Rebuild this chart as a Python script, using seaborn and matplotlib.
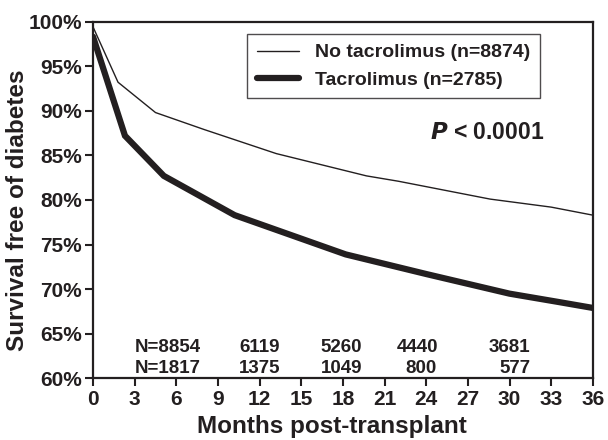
import matplotlib
matplotlib.use("Agg")
import matplotlib.pyplot as plt
import seaborn as sns
import pandas as pd
from matplotlib.ticker import FuncFormatter

# Data
months_no_tac = [0, 1.8, 4.5, 8.0, 13.2, 19.7, 22.0, 28.6, 33.0, 36]
surv_no_tac = [99.4, 93.2, 89.8, 87.9, 85.2, 82.7, 82.1, 80.1, 79.2, 78.3]
months_tac = [0, 2.3, 5.1, 10.2, 18.2, 24.0, 30.0, 33.4, 36]
surv_tac = [98.3, 87.2, 82.7, 78.3, 73.9, 71.7, 69.5, 68.6, 67.9]

label_no_tac = "No tacrolimus (n=8874)"
label_tac = "Tacrolimus (n=2785)"

risk_months_top = [5.4, 12.0, 17.9, 23.4, 30.0]
risk_top = ["N=8854", "6119", "5260", "4440", "3681"]
risk_months_bot = [5.4, 12.0, 17.9, 23.6, 30.4]
risk_bot = ["N=1817", "1375", "1049", "800", "577"]

x_ticks = list(range(0, 37, 3))
y_ticks = list(range(60, 101, 5))

sns.set_style("ticks")
plt.rcParams["font.family"] = ["Liberation Sans", "DejaVu Sans"]
plt.rcParams["font.weight"] = "bold"

df_no = pd.DataFrame({"Months": months_no_tac, "Survival": surv_no_tac})
df_tac = pd.DataFrame({"Months": months_tac, "Survival": surv_tac})

fig = plt.figure(figsize=(6.08, 4.40), dpi=100)
ax = fig.add_axes([0.153, 0.140, 0.822, 0.811])

sns.lineplot(data=df_no, x="Months", y="Survival", ax=ax, color="#231f20",
             linewidth=1.0, label=label_no_tac, estimator=None, sort=False)
sns.lineplot(data=df_tac, x="Months", y="Survival", ax=ax, color="#231f20",
             linewidth=4.5, label=label_tac, estimator=None, sort=False,
             solid_joinstyle="miter")

ax.set_xlim(0, 36)
ax.set_ylim(60, 100)
ax.set_xticks(x_ticks)
ax.set_yticks(y_ticks)
ax.yaxis.set_major_formatter(FuncFormatter(lambda v, p: f"{int(v)}%"))
ax.tick_params(axis="both", which="major", labelsize=15, length=6, width=1.5,
               color="#231f20", labelcolor="#231f20", pad=2)
for lab in ax.get_xticklabels() + ax.get_yticklabels():
    lab.set_fontweight("bold")

for s in ax.spines.values():
    s.set_visible(True)
    s.set_linewidth(1.6)
    s.set_color("#231f20")

ax.set_xlabel("Months post-transplant", fontsize=17.5, fontweight="bold",
              color="#231f20")
ax.set_ylabel("Survival free of diabetes", fontsize=17.5, fontweight="bold",
              color="#231f20")
ax.xaxis.set_label_coords(0.478, -0.103)
ax.yaxis.set_label_coords(-0.128, 0.47)

leg = ax.legend(loc="upper right", bbox_to_anchor=(0.894, 0.965),
                fontsize=14, frameon=True, fancybox=False, handlelength=2.2,
                borderpad=0.5, labelspacing=0.5, handletextpad=0.8,
                borderaxespad=0)
leg.get_frame().set_edgecolor("#231f20")
leg.get_frame().set_linewidth(1.0)
for t in leg.get_texts():
    t.set_fontweight("bold")
    t.set_color("#231f20")

ax.text(28.4, 87.6, r"$\bf{\it{P}}$ < 0.0001", fontsize=16.5, fontweight="bold",
        ha="center", va="center", color="#231f20")

for m, t in zip(risk_months_top, risk_top):
    ax.text(m, 63.5, t, fontsize=13.5, fontweight="bold", ha="center",
            va="center", color="#231f20")
for m, t in zip(risk_months_bot, risk_bot):
    ax.text(m, 61.1, t, fontsize=13.5, fontweight="bold", ha="center",
            va="center", color="#231f20")

fig.savefig("out.png", dpi=100)
